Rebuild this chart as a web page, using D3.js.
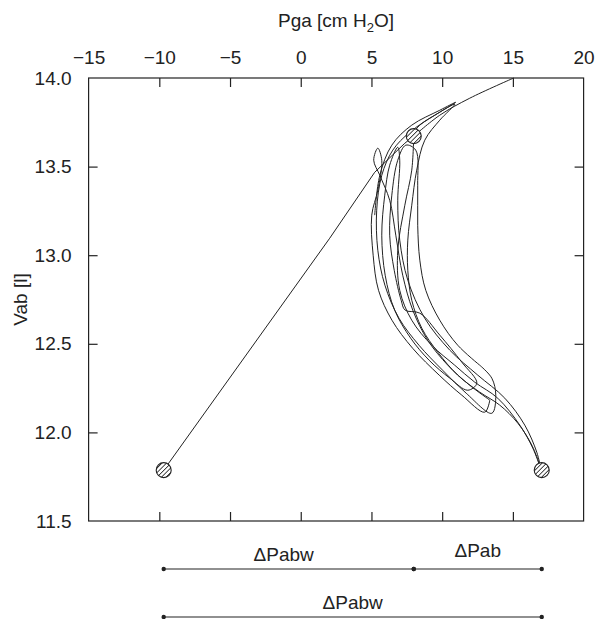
<!DOCTYPE html>
<html>
<head>
<meta charset="utf-8">
<script src="https://cdn.jsdelivr.net/npm/d3@7"></script>
<style>
  body { margin: 0; background: #fff; }
  svg { font-family: "Liberation Sans", Arial, sans-serif; }
</style>
</head>
<body>
<svg width="598" height="619"></svg>
<script>

// Pga [cm H2O], Vab [l]
var xTicks = [-15, -10, -5, 0, 5, 10, 15, 20];
var yTicks = [11.5, 12.0, 12.5, 13.0, 13.5, 14.0];

// straight passive line from the left marker up to the top
var straight = [[-9.69, 11.787], [2.05, 13.096], [5.23, 13.468], [7.36, 13.632], [7.99, 13.672],
                [9.83, 13.79], [11.95, 13.886], [15.06, 14.0]];

var loopA = [[17.04, 11.787], [16.34, 11.928], [15.35, 12.052], [14.07, 12.154], [12.66, 12.227],
  [11.10, 12.323], [9.69, 12.453], [8.56, 12.588], [7.85, 12.746], [7.57, 12.915], [7.57, 13.085],
  [7.85, 13.282], [8.20, 13.480], [8.77, 13.649], [9.83, 13.762], [10.89, 13.852], [9.48, 13.790],
  [7.71, 13.694], [6.51, 13.593], [5.73, 13.451], [5.37, 13.254], [5.45, 13.028], [5.95, 12.831],
  [6.95, 12.644], [8.36, 12.492], [10.03, 12.351], [11.70, 12.221], [13.51, 12.108], [13.79, 12.210],
  [13.51, 12.306], [12.66, 12.379]];

var loopB = [[12.66, 12.379], [11.10, 12.492], [9.83, 12.633], [8.84, 12.802], [8.42, 12.972],
  [8.27, 13.169], [8.27, 13.395], [8.13, 13.593], [7.43, 13.621], [6.86, 13.536], [6.44, 13.339],
  [6.29, 13.113], [6.61, 12.915], [7.10, 12.746], [7.38, 12.690], [8.42, 12.673], [9.83, 12.549],
  [11.39, 12.396], [12.45, 12.278], [11.81, 12.238], [10.54, 12.306], [9.08, 12.407], [7.77, 12.532],
  [6.64, 12.690], [5.97, 12.887], [5.73, 13.113], [5.94, 13.339], [6.29, 13.508], [6.86, 13.609],
  [7.00, 13.536], [6.86, 13.310], [7.00, 13.085], [7.57, 12.859], [8.77, 12.644], [10.54, 12.464],
  [12.52, 12.323], [14.43, 12.193], [15.84, 12.041], [16.69, 11.888], [16.97, 11.798]];

var loopC = [[13.37, 12.182], [11.95, 12.266], [10.40, 12.379], [8.98, 12.520], [7.92, 12.690],
  [7.21, 12.887], [6.72, 13.113], [6.29, 13.310], [5.59, 13.451], [5.16, 13.536], [5.45, 13.604],
  [5.73, 13.536], [5.45, 13.367], [5.02, 13.226], [5.12, 13.000], [5.50, 12.802], [6.45, 12.633],
  [7.91, 12.475], [9.79, 12.323], [11.39, 12.210], [13.01, 12.114], [13.37, 12.182]];

var loopD = [[7.99, 13.672], [7.85, 13.480], [7.36, 13.282], [6.86, 13.028], [7.00, 12.802],
  [7.85, 12.633], [9.26, 12.492], [10.89, 12.379], [12.31, 12.283], [13.93, 12.193], [15.49, 12.041],
  [16.41, 11.911], [16.90, 11.810]];

var loopE = [[5.23, 13.226], [5.59, 13.451], [6.44, 13.621], [7.85, 13.734], [9.83, 13.818],
  [10.96, 13.863], [9.83, 13.807], [8.42, 13.734], [7.57, 13.649]];

var markers = [[-9.69, 11.787], [7.99, 13.672], [17.04, 11.787]];

var spans = [
  { label: "\u0394Pabw", from: -9.69, to: 7.99, row: 0 },
  { label: "\u0394Pab", from: 7.99, to: 17.04, row: 0 },
  { label: "\u0394Pabw", from: -9.69, to: 17.04, row: 1 }
];

var svg = d3.select("svg"),
    pLeft = 88.6, pRight = 583.6, pTop = 78, pBottom = 521;

var x = d3.scaleLinear().domain([-15, 20]).range([pLeft, pRight]);
var y = d3.scaleLinear().domain([11.5, 14]).range([pBottom, pTop]);

var fmtY = d3.format(".1f");
var fmtX = function(d) { return d < 0 ? "\u2212" + Math.abs(d) : d; };
var fs = "19px";

// hatch pattern for markers
var pat = svg.append("defs").append("pattern")
    .attr("id", "hatch")
    .attr("patternUnits", "userSpaceOnUse")
    .attr("width", 3.2).attr("height", 3.2)
    .attr("patternTransform", "rotate(-45)");
pat.append("rect").attr("width", 3.2).attr("height", 3.2).attr("fill", "#fff");
pat.append("line").attr("x1", 0).attr("y1", 0).attr("x2", 3.2).attr("y2", 0)
    .attr("stroke", "#222").attr("stroke-width", 1.6);

// frame
svg.append("rect")
    .attr("x", pLeft).attr("y", pTop)
    .attr("width", pRight - pLeft).attr("height", pBottom - pTop)
    .attr("fill", "none").attr("stroke", "#222").attr("stroke-width", 1.2);

var tl = 9;
var gTop = svg.append("g").attr("transform", "translate(0," + pTop + ")")
    .call(d3.axisTop(x).tickValues(xTicks).tickSizeInner(-tl).tickSizeOuter(0).tickPadding(tl + 5).tickFormat(fmtX));
var gBot = svg.append("g").attr("transform", "translate(0," + pBottom + ")")
    .call(d3.axisBottom(x).tickValues(xTicks).tickSizeInner(-tl).tickSizeOuter(0).tickFormat(""));
var gLeft = svg.append("g").attr("transform", "translate(" + pLeft + ",0)")
    .call(d3.axisLeft(y).tickValues(yTicks).tickSizeInner(-tl).tickSizeOuter(0).tickPadding(tl + 8).tickFormat(fmtY));
var gRight = svg.append("g").attr("transform", "translate(" + pRight + ",0)")
    .call(d3.axisRight(y).tickValues(yTicks).tickSizeInner(-tl).tickSizeOuter(0).tickFormat(""));

[gTop, gBot, gLeft, gRight].forEach(function(g) {
  g.select(".domain").remove();
  g.selectAll(".tick line").attr("stroke", "#222").attr("stroke-width", 1.2);
  g.selectAll(".tick text").attr("fill", "#222").style("font-size", fs)
      .style("font-family", "'Liberation Sans', Arial, sans-serif");
});
gTop.selectAll(".tick").filter(function(d) { return d == -15 || d == 20; }).select("line").remove();
gBot.selectAll(".tick").filter(function(d) { return d == -15 || d == 20; }).select("line").remove();
gLeft.selectAll(".tick").filter(function(d) { return d == 11.5 || d == 14; }).select("line").remove();
gRight.selectAll(".tick").filter(function(d) { return d == 11.5 || d == 14; }).select("line").remove();

// axis titles
var title = svg.append("text")
    .attr("x", 336).attr("y", 27)
    .attr("text-anchor", "middle")
    .style("font-size", fs).attr("fill", "#222");
title.append("tspan").text("Pga [cm H");
title.append("tspan").text("2").attr("dy", 5).style("font-size", "13px");
title.append("tspan").text("O]").attr("dy", -5);

svg.append("text")
    .attr("transform", "translate(27," + ((pTop + pBottom) / 2) + ") rotate(-90)")
    .attr("text-anchor", "middle")
    .style("font-size", fs).attr("fill", "#222")
    .text("Vab [l]");

// traces
var plot = svg.append("g");
var lin = d3.line().x(function(d) { return x(d[0]); }).y(function(d) { return y(d[1]); });
var smooth = d3.line().x(function(d) { return x(d[0]); }).y(function(d) { return y(d[1]); })
    .curve(d3.curveCatmullRom.alpha(0.5));

plot.append("path").datum(straight.slice(0, 5)).attr("d", lin)
    .attr("fill", "none").attr("stroke", "#222").attr("stroke-width", 1);
plot.append("path").datum(straight.slice(4)).attr("d", smooth)
    .attr("fill", "none").attr("stroke", "#222").attr("stroke-width", 1);

plot.selectAll(".loop")
    .data([loopA, loopB, loopC, loopD, loopE])
    .enter().append("path")
    .attr("class", "loop")
    .attr("d", smooth)
    .attr("fill", "none").attr("stroke", "#222").attr("stroke-width", 1);

plot.selectAll(".marker")
    .data(markers)
    .enter().append("circle")
    .attr("class", "marker")
    .attr("cx", function(d) { return x(d[0]); })
    .attr("cy", function(d) { return y(d[1]); })
    .attr("r", 7.5)
    .attr("fill", "url(#hatch)")
    .attr("stroke", "#222").attr("stroke-width", 1.1);

// pressure spans below the chart
var rowY = [569, 617], labY = [554, 602];
var sp = svg.append("g").selectAll("g").data(spans).enter().append("g");
sp.append("line")
    .attr("x1", function(d) { return x(d.from); })
    .attr("x2", function(d) { return x(d.to); })
    .attr("y1", function(d) { return rowY[d.row]; })
    .attr("y2", function(d) { return rowY[d.row]; })
    .attr("stroke", "#222").attr("stroke-width", 1.2);
sp.append("text")
    .attr("x", function(d) { return (x(d.from) + x(d.to)) / 2 + (d.row == 0 && d.label == "\u0394Pabw" ? -5 : 0); })
    .attr("y", function(d) { return labY[d.row] + (d.label == "\u0394Pab" ? -4 : 0) + 7; })
    .attr("text-anchor", "middle")
    .style("font-size", fs).attr("fill", "#222")
    .text(function(d) { return d.label; });
sp.each(function(d) {
  d3.select(this).selectAll("circle").data([d.from, d.to]).enter().append("circle")
      .attr("cx", function(v) { return x(v); })
      .attr("cy", rowY[d.row])
      .attr("r", 2.2).attr("fill", "#222");
});

</script>
</body>
</html>
